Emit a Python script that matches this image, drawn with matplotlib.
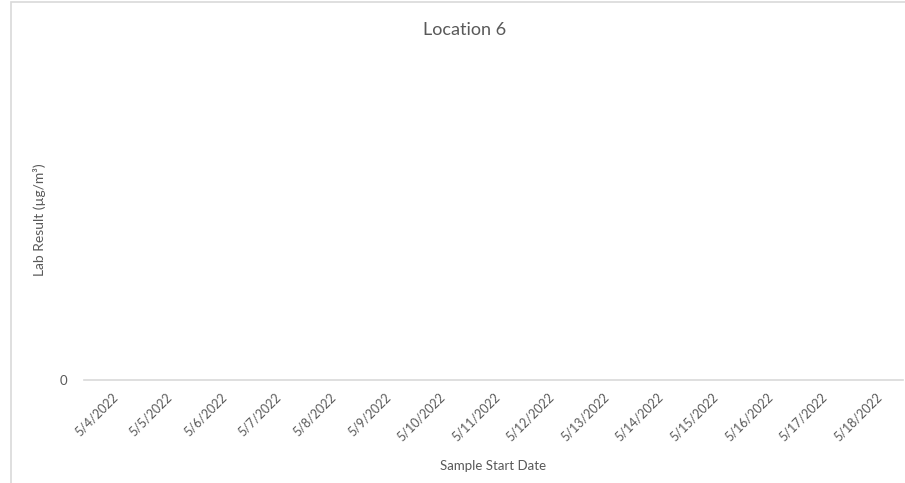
import numpy as np
import matplotlib
matplotlib.use("Agg")
import matplotlib.pyplot as plt
from matplotlib.patches import Rectangle

# data (chart has no plotted results)
dates = ['5/4/2022', '5/5/2022', '5/6/2022', '5/7/2022', '5/8/2022',
         '5/9/2022', '5/10/2022', '5/11/2022', '5/12/2022', '5/13/2022',
         '5/14/2022', '5/15/2022', '5/16/2022', '5/17/2022', '5/18/2022']
results = [np.nan] * len(dates)
y_ticks = [0]

plt.rcParams['font.family'] = ['Lato', 'DejaVu Sans']
txt = '#595959'

W, H = 905, 483
fig = plt.figure(figsize=(W / 100, H / 100), dpi=100)
ax = fig.add_axes([84 / W, (H - 380) / H, (903 - 84) / W, (380 - 55) / H])

x = np.arange(len(dates))
ax.plot(x, results, color='#4472C4', marker='o')

ax.set_xlim(-0.5, len(dates) - 0.5)
ax.set_ylim(0, 1)
ax.set_xticks(x)
ax.set_xticklabels(dates, rotation=45, ha='right', rotation_mode='anchor',
                   fontsize=9, color=txt)
ax.set_yticks(y_ticks)
ax.set_yticklabels([str(v) for v in y_ticks], fontsize=9.5, color=txt)
ax.tick_params(axis='both', length=0)
ax.tick_params(axis='x', pad=8)
ax.tick_params(axis='y', pad=12)

for s in ['top', 'right', 'left']:
    ax.spines[s].set_visible(False)
ax.spines['bottom'].set_color('#D9D9D9')
ax.spines['bottom'].set_linewidth(1.2)

# titles
fig.text(465 / W, 1 - 30 / H, 'Location 6', ha='center', va='center',
         fontsize=13, color=txt)
fig.text(493 / W, 1 - 466 / H, 'Sample Start Date', ha='center', va='center',
         fontsize=9.5, color=txt)
fig.text(40 / W, 1 - 220 / H, 'Lab Result (µg/m³)', ha='center', va='center',
         rotation=90, fontsize=10, color=txt)

# chart area border
fig.patches.append(Rectangle((11 / W, -0.1), 1.2, 1 - 2 / H + 0.1,
                             transform=fig.transFigure, fill=False,
                             edgecolor='#D9D9D9', linewidth=1.2))

fig.savefig('out.png', dpi=100)
